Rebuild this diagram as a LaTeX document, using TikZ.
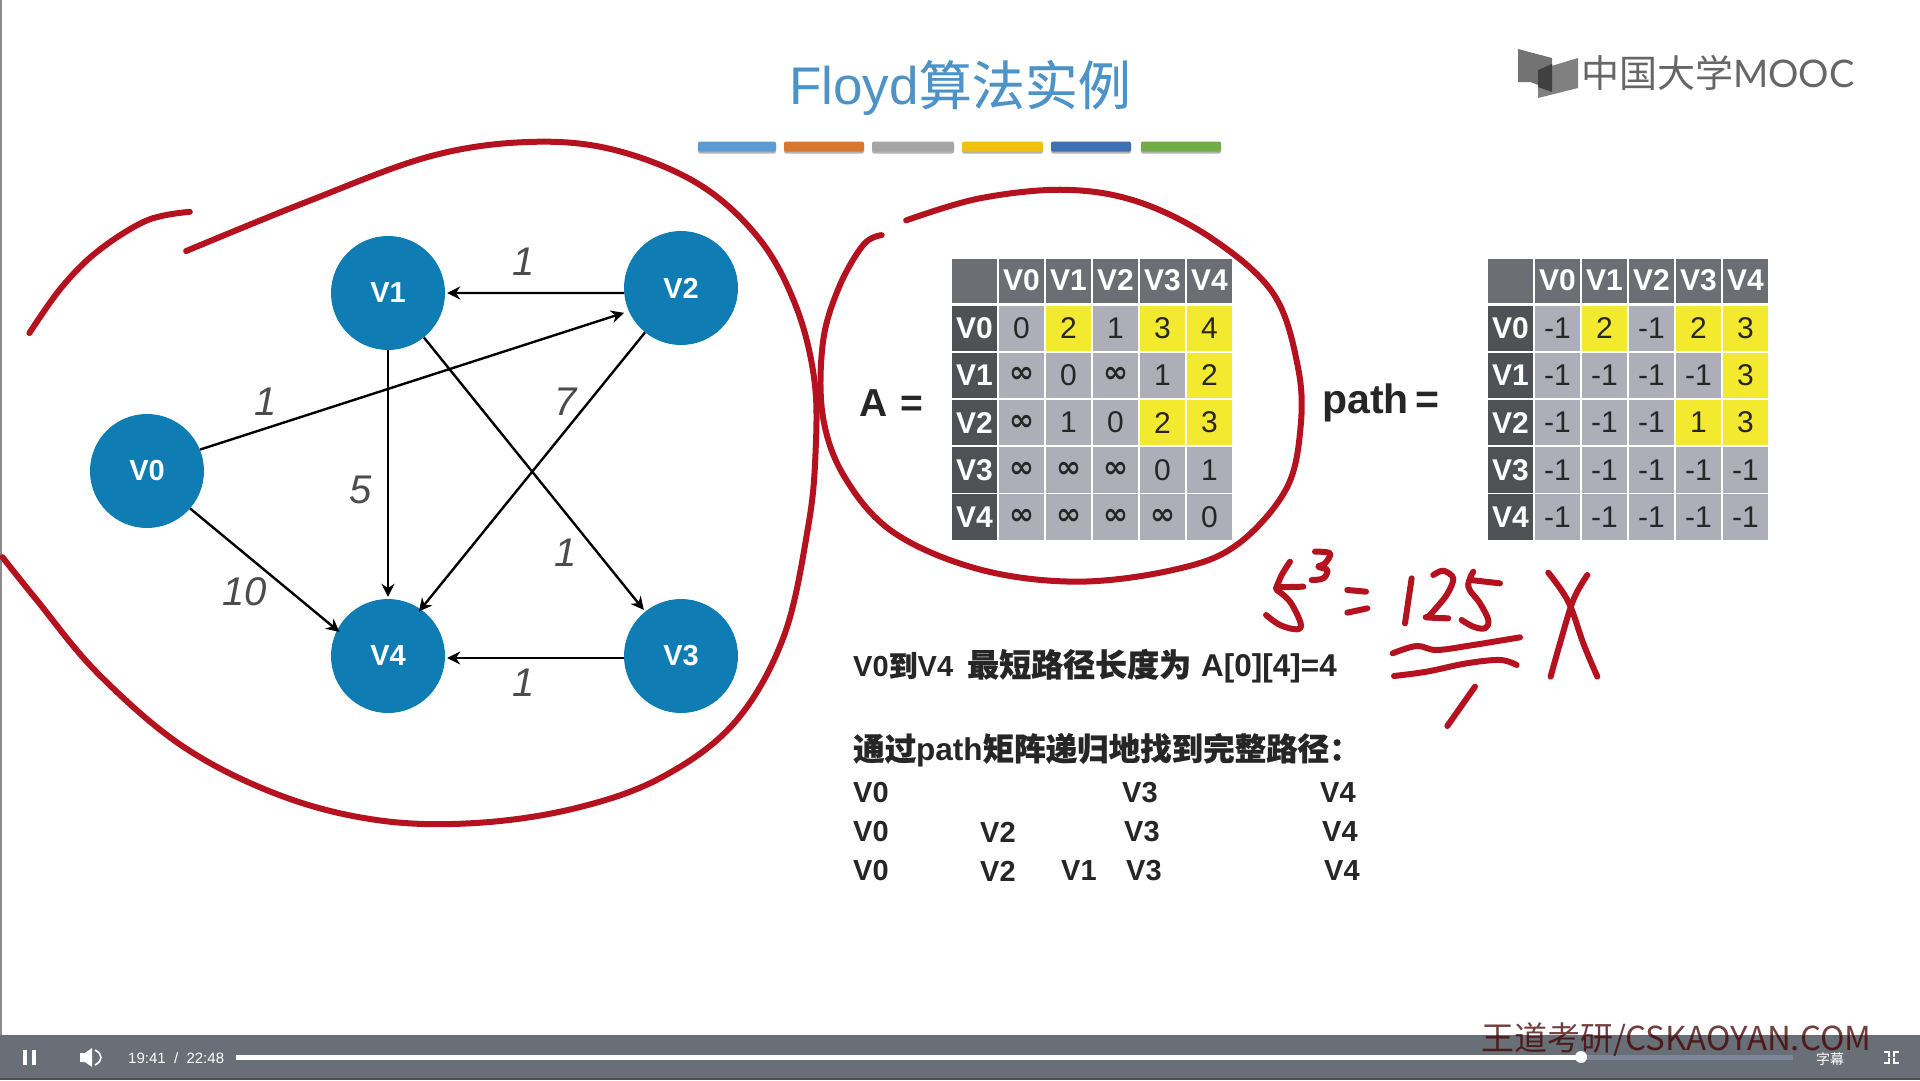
\documentclass[tikz,border=0pt]{standalone}
\usepackage{fontspec}
\usetikzlibrary{arrows.meta}
\setmainfont{Liberation Sans}
\newfontfamily\cjk{Noto Sans CJK SC}
\newfontfamily\cjkb[FakeBold=0.6]{Noto Sans CJK SC}
\newfontfamily\cjkt[FakeBold=0.2]{Noto Sans CJK SC}
\newfontfamily\dv{DejaVu Sans}
\newfontfamily\lato{Lato}
\newfontface\lsbold{Liberation Sans Bold}
\newcommand{\ii}{{\dv\bfseries ∞}}
\newcommand{\bigtxt}{\fontsize{31.5}{32}\lsbold}
\definecolor{nodeblue}{HTML}{0F7DB4}
\definecolor{inkred}{HTML}{B5121F}
\definecolor{cellgray}{HTML}{AEAEB8}
\definecolor{cellyel}{HTML}{F3E92E}
\definecolor{headgray}{HTML}{6C6E73}
\definecolor{sidegray}{HTML}{505155}
\definecolor{titleblue}{HTML}{4E93C8}
\definecolor{barcol}{HTML}{696F76}
\definecolor{barrest}{HTML}{7D8797}
\tikzset{
  x=1pt,y=-1pt,
  vert/.style={circle,fill=nodeblue,minimum size=114,inner sep=0,text=white,font=\fontsize{29}{29}\selectfont\bfseries},
  link/.style={draw=black,line width=2.4,-{Stealth[length=13,width=13]},shorten >=2},
  wlabel/.style={inner sep=0,font=\fontsize{40}{40}\selectfont\itshape,text=black!70},
  ink/.style={draw=inkred,line width=6,line cap=round,line join=round},
  thin ink/.style={draw=inkred,line width=6,line cap=round,line join=round},
  cellbase/.style={inner sep=0,minimum width=45.4,minimum height=45.4,font=\fontsize{30}{30}\selectfont,text=black!85},
  cellg/.style={cellbase,fill=cellgray},
  celly/.style={cellbase,fill=cellyel},
  cellh/.style={cellbase,fill=headgray,text=white,font=\fontsize{30}{30}\selectfont\bfseries},
  cellside/.style={cellbase,fill=sidegray,text=white,font=\fontsize{30}{30}\selectfont\bfseries},
  body/.style={anchor=west,inner sep=0,font=\fontsize{29}{29}\selectfont\bfseries,text=black!85},
  bigeq/.style={inner sep=0,font=\fontsize{41}{41}\selectfont\bfseries,text=black!85},
  bartxt/.style={inner sep=0,text=white,font=\fontsize{15}{15}\selectfont},
  ctl/.style={fill=white,draw=none},
}
\newcommand{\tblhead}[2]{%
  \node[cellh,minimum width=45,minimum height=44] (#1-corner) at (#2+22.5,280.5) {};
  \foreach \h [count=\c] in {V0,V1,V2,V3,V4} {
    \pgfmathsetmacro{\cx}{#2+46+47*(\c-0.5)}
    \node[cellh,minimum height=44] (#1-h\c) at (\cx,280.5) {\h};
  }%
}
\newcommand{\tblrow}[5]{%
  \pgfmathsetmacro{\cy}{304.6+47.2*(#3-0.5)}
  \node[cellside,minimum width=45] (#1-s#3) at (#2+22.5,\cy) {#4};
  \foreach \v/\f [count=\c] in {#5} {
    \pgfmathsetmacro{\cx}{#2+46+47*(\c-0.5)}
    \node[cell\f] (#1-#3-\c) at (\cx,\cy) {\v};
  }%
}
\begin{document}
\begin{tikzpicture}
\useasboundingbox (0,0) rectangle (1920,1080);
\fill[white] (0,0) rectangle (1920,1080);
\draw[black!45,line width=1.5] (0.8,0) -- (0.8,1035);

% title and colour bars
\node[inner sep=0,text=titleblue,font=\fontsize{53}{53}\selectfont] (title) at (960,88) {Floyd{\cjkt 算法实例}};
\foreach \a/\b/\col in {698/776/5B9BD5,784/864/D9772F,872/954/A5A5A5,962/1043/F2C010,1051/1131/3F6FB5,1141/1221/70AD47} {
  \definecolor{tmpbar}{HTML}{\col}
  \fill[black!30,rounded corners=2] (\a,143) rectangle (\b,153.5);
  \fill[tmpbar,rounded corners=2] (\a,141.5) rectangle (\b,151.5);
}

% logo
\fill[black!55] (1518,49) -- (1552,58) -- (1552,90) -- (1530,82) -- (1518,82) -- cycle;
\fill[black!50] (1538,98) -- (1538,70) -- (1578,58) -- (1578,88) -- cycle;
\fill[black!75] (1538,70) -- (1552,64) -- (1552,92) -- (1538,87) -- cycle;
\node[anchor=west,inner sep=0,text=black!60,font=\fontsize{38}{38}\selectfont] (logo) at (1581,73) {{\cjk 中国大学}{\lato MOOC}};

% graph
\node[vert] (V0) at (147,471) {V0};
\node[vert] (V1) at (388,293) {V1};
\node[vert] (V2) at (681,288) {V2};
\node[vert] (V3) at (681,656) {V3};
\node[vert] (V4) at (388,656) {V4};
\path[link] (V2.185) -- (V1.east);
\path[link,shorten >=5] (V0.22) -- (V2.204);
\path[link,shorten >=-3] (V0.-41) -- (V4.153);
\path[link] (V1) -- (V4);
\path[link] (V1) -- (V3);
\path[link,shorten >=-3] (V2.231) -- (V4.55);
\path[link] (V3.182) -- (V4.358);
\node[wlabel] (w1) at (524,262) {1};
\node[wlabel] (w2) at (266,402) {1};
\node[wlabel] (w3) at (566,402) {7};
\node[wlabel] (w4) at (361,490) {5};
\node[wlabel] (w5) at (566,553) {1};
\node[wlabel] (w6) at (245,592) {10};
\node[wlabel] (w7) at (524,683) {1};

% matrices
\node[bigeq,font=\fontsize{39}{39}\selectfont\bfseries] (Aeq) at (891,403) {A\,\,=};
\node[bigeq] (patheq) at (1381,403) {path\,=};
\tblhead{A}{952}
\tblrow{A}{952}{1}{V0}{0/g,2/y,1/g,3/y,4/y}
\tblrow{A}{952}{2}{V1}{\ii/g,0/g,\ii/g,1/g,2/y}
\tblrow{A}{952}{3}{V2}{\ii/g,1/g,0/g,2/y,3/y}
\tblrow{A}{952}{4}{V3}{\ii/g,\ii/g,\ii/g,0/g,1/g}
\tblrow{A}{952}{5}{V4}{\ii/g,\ii/g,\ii/g,\ii/g,0/g}
\tblhead{P}{1488}
\tblrow{P}{1488}{1}{V0}{-1/g,2/y,-1/g,2/y,3/y}
\tblrow{P}{1488}{2}{V1}{-1/g,-1/g,-1/g,-1/g,3/y}
\tblrow{P}{1488}{3}{V2}{-1/g,-1/g,-1/g,1/y,3/y}
\tblrow{P}{1488}{4}{V3}{-1/g,-1/g,-1/g,-1/g,-1/g}
\tblrow{P}{1488}{5}{V4}{-1/g,-1/g,-1/g,-1/g,-1/g}

% body text
\node[body] (t1) at (853,666) {V0{\cjkb 到}V4\hspace{14pt}{\fontsize{32}{32}\selectfont\cjkb 最短路径长度为}\hspace{10pt}{\bigtxt A[0][4]=4}};
\node[body] (t2) at (853,750) {\fontsize{31.5}{32}\selectfont{\cjkb 通过}{\bigtxt path}{\cjkb 矩阵递归地找到完整路径：}};
\foreach \tx/\ty/\lab/\nm in {853/793/V0/a1,1122/793/V3/a2,1320/793/V4/a3,
  853/832/V0/b1,980/832/V2/b2,1124/832/V3/b3,1322/832/V4/b4,
  853/871/V0/c1,980/871/V2/c2,1061/871/V1/c3,1126/871/V3/c4,1324/871/V4/c5} {
  \node[body] (\nm) at (\tx,\ty) {\lab};
}

% player bar
\fill[barcol] (0,1035) rectangle (1920,1080);
\fill[black!70] (0,1078) rectangle (1920,1080);
\fill[white] (236,1054.5) rectangle (1581,1059.5);
\fill[barrest] (1581,1054.5) rectangle (1793,1059.5);
\fill[white] (1581,1057) circle (6);
\fill[ctl] (23,1050) rectangle (27,1065);
\fill[ctl] (32,1050) rectangle (36,1065);
\fill[ctl] (80,1053) -- (85,1053) -- (92,1048) -- (92,1067) -- (85,1062) -- (80,1062) -- cycle;
\draw[white,line width=1.6] (95,1050) .. controls (103,1054) and (103,1061) .. (95,1065);
\node[bartxt,anchor=west] (time) at (128,1058) {19:41\ \ /\ \ 22:48};
\node[bartxt,font=\fontsize{14}{14}\selectfont\cjk] (sub) at (1830,1059) {字幕};
\draw[white,line width=2] (1884,1052) -- (1889,1052) -- (1889,1057) (1899,1052) -- (1894,1052) -- (1894,1057)
  (1884,1063) -- (1889,1063) -- (1889,1058) (1899,1063) -- (1894,1063) -- (1894,1058);

% watermark
\node[anchor=west,inner sep=0,text=black!55!red!60!black,opacity=0.75,font=\fontsize{33}{33}\selectfont\cjk] (mark) at (1481,1040) {王道考研/CSKAOYAN.COM};

% hand-drawn loops
\begin{scope}[x=1.2245pt,y=-1.2245pt]
\draw[ink] plot[smooth,tension=0.6] coordinates {(152,205) (250,165) (350,128) (430,116) (500,122) (570,150) (620,195) (650,250) (665,310) (666,370) (660,430) (640,520) (600,590) (540,635) (470,660) (390,672) (310,670) (230,650) (150,610) (80,550) (30,490) (2,455)};
\draw[ink] plot[smooth,tension=0.6] coordinates {(155,173) (120,180) (80,205) (50,235) (24,272)};
\draw[ink] plot[smooth,tension=0.6] coordinates {(740,180) (800,162) (870,155) (930,165) (990,195) (1040,240) (1060,300) (1062,350) (1050,400) (1010,445) (960,465) (880,475) (800,465) (730,435) (690,390) (672,340) (672,280) (685,235) (705,200) (720,192)};
\end{scope}

% hand-written calculation
\begin{scope}[shift={(1240,530)},x=0.3333pt,y=-0.3333pt]
\draw[thin ink] plot[smooth,tension=0.5] coordinates {(150,95) (125,135) (108,175)};
\draw[thin ink] (112,172) -- (190,170);
\draw[thin ink] plot[smooth,tension=0.6] coordinates {(110,180) (150,215) (182,280) (170,298) (120,285) (78,255)};
\draw[thin ink] plot[smooth,tension=0.6] coordinates {(225,65) (270,70) (255,100) (235,110) (262,120) (250,145) (215,150)};
\draw[thin ink] (322,180) -- (378,185);
\draw[thin ink] (322,248) -- (382,235);
\draw[thin ink] (515,145) -- (495,280);
\draw[thin ink] plot[smooth,tension=0.5] coordinates {(580,135) (610,122) (640,145) (620,195) (570,255) (560,262) (625,265)};
\draw[thin ink] plot[smooth,tension=0.6] coordinates {(700,125) (685,170) (720,220) (745,270) (735,295) (700,290) (665,270)};
\draw[thin ink] (692,150) -- (780,160);
\draw[thin ink] plot[smooth,tension=0.6] coordinates {(458,370) (530,348) (590,360) (700,345) (840,322)};
\draw[thin ink] plot[smooth,tension=0.6] coordinates {(462,438) (560,425) (680,400) (780,390) (830,405)};
\draw[thin ink] (705,470) -- (622,588);
\draw[thin ink] plot[smooth,tension=0.6] coordinates {(925,128) (985,215) (1030,340) (1072,440)};
\draw[thin ink] plot[smooth,tension=0.6] coordinates {(1042,135) (1000,210) (960,340) (932,440)};
\end{scope}
\end{tikzpicture}
\end{document}
